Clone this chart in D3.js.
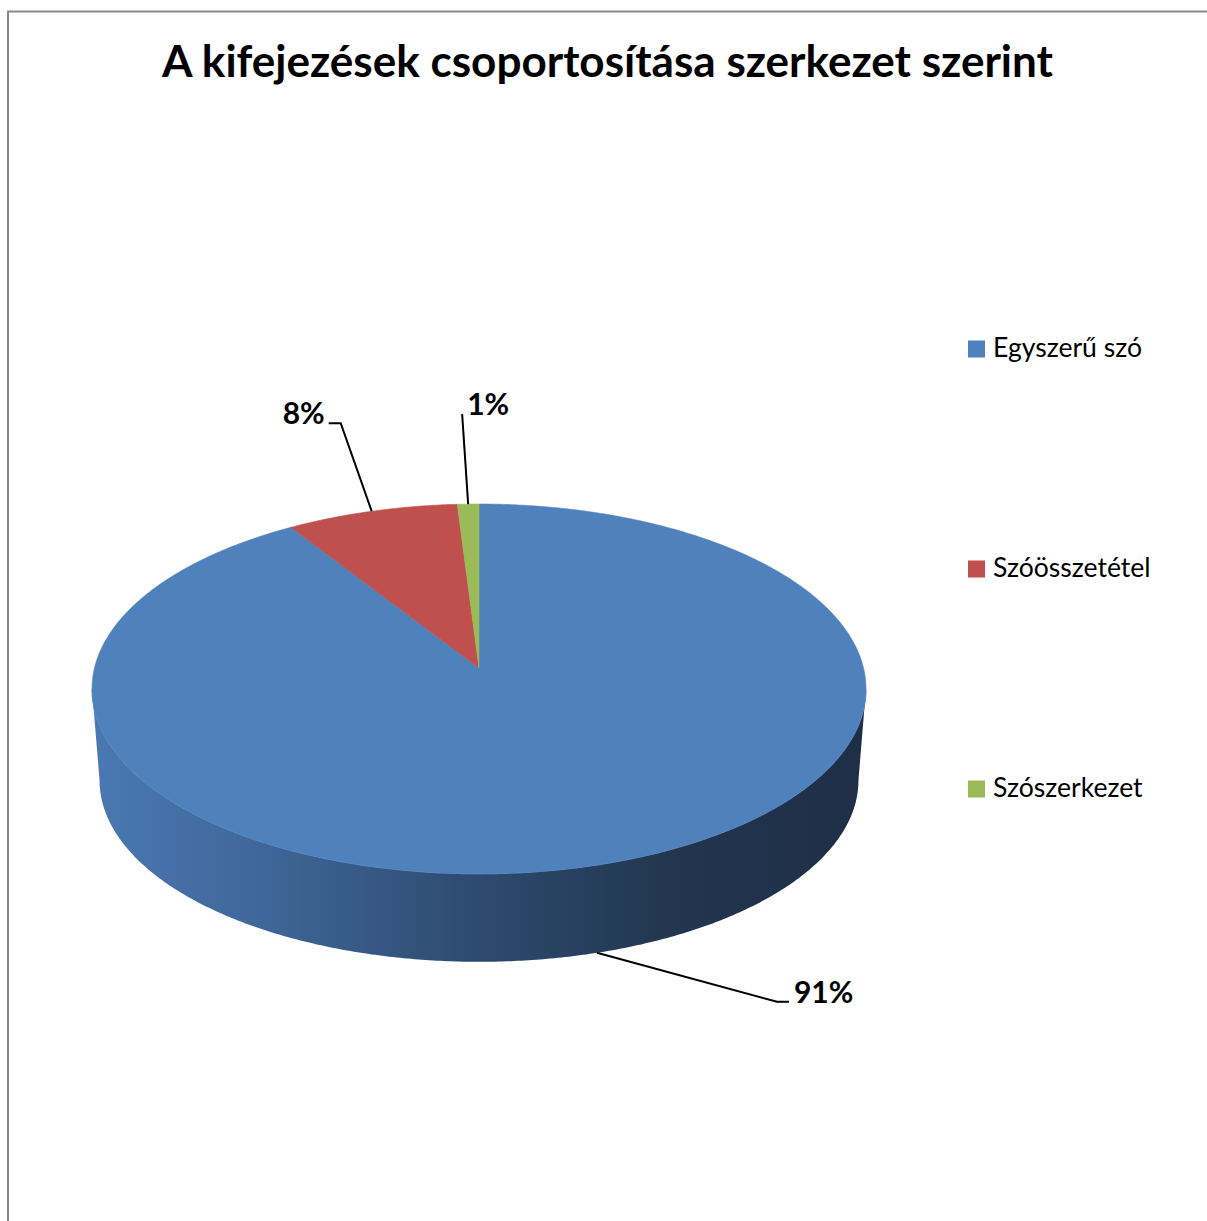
<!DOCTYPE html>
<html>
<head>
<meta charset="utf-8">
<script src="https://cdn.jsdelivr.net/npm/d3@7"></script>
<style>
  html, body { margin: 0; padding: 0; background: #ffffff; }
  svg { display: block; }
  text { font-family: Lato, "Open Sans", "DejaVu Sans", sans-serif; }
</style>
</head>
<body>
<div id="chart"></div>
<script>
// Kifejezések szerkezet szerinti megoszlása (százalék)
const categories = ["Egyszerű szó", "Szóösszetétel", "Szószerkezet"];
const shares = [91, 8, 1];
const colors = ["#4f81bd", "#c0504d", "#9bbb59"];
const chartTitle = "A kifejezések csoportosítása szerkezet szerint";

const W = 1207, H = 1221;
const svg = d3.select("#chart").append("svg")
  .attr("width", W).attr("height", H);

// Chart area frame
svg.append("rect")
  .attr("x", 8).attr("y", 11.5)
  .attr("width", W + 20).attr("height", H + 20)
  .attr("fill", "#ffffff")
  .attr("stroke", "#898989").attr("stroke-width", 2);

// Fit a text element to a given width by scaling its font size
function fitWidth(sel, width) {
  const node = sel.node();
  const fs = parseFloat(sel.attr("font-size"));
  const w = node.getComputedTextLength();
  const size = fs * width / w;
  sel.attr("font-size", size.toFixed(2));
  return size;
}

// Title
const title = svg.append("text")
  .attr("x", 607.5).attr("y", 77)
  .attr("text-anchor", "middle")
  .attr("font-weight", 700)
  .attr("font-size", 40)
  .attr("fill", "#000")
  .text(chartTitle);
fitWidth(title, 891);

// ---- 3D pie geometry: a disc seen in perspective ----
const CX = 479;
const K = 0.113;                     // perspective foreshortening
const topFace = { s: 384.5, t: 182.5, cy: 668 };
const bottomFace = { s: 377, t: 179, cy: 760 };

// angle a: radians, clockwise from 12 o'clock
function proj(a, face) {
  const u = Math.sin(a), v = Math.cos(a);
  const d = 1 + K * v;
  return [CX + face.s * u / d, face.cy - face.t * v / d];
}
function arcPoints(a0, a1, face) {
  const n = Math.max(2, Math.ceil(Math.abs(a1 - a0) / (Math.PI / 360)));
  return d3.range(n + 1).map(i => proj(a0 + (a1 - a0) * i / n, face));
}

const pie = d3.pie().sort(null).value(d => d)(shares);

// Side wall (front half of the cylinder)
const aR = Math.acos(-K), aL = 2 * Math.PI - Math.acos(-K);
const sidePts = arcPoints(aR, aL, topFace).concat(arcPoints(aL, aR, bottomFace));

const defs = svg.append("defs");
const grad = defs.append("linearGradient")
  .attr("id", "sideShade")
  .attr("gradientUnits", "userSpaceOnUse")
  .attr("x1", CX - topFace.s).attr("x2", CX + topFace.s)
  .attr("y1", 0).attr("y2", 0);
[[0, "#4a78b2"], [0.2, "#40689b"], [0.5, "#2d4a6f"], [0.75, "#22364f"], [1, "#1e2e46"]]
  .forEach(([o, c]) => grad.append("stop").attr("offset", o).attr("stop-color", c));

svg.append("path")
  .attr("d", d3.line()(sidePts) + "Z")
  .attr("fill", "url(#sideShade)");

// Thin highlight along the front rim
svg.append("path")
  .attr("d", d3.line()(arcPoints(aR, aL, topFace)))
  .attr("fill", "none")
  .attr("stroke", "#6a94c8")
  .attr("stroke-width", 1.2)
  .attr("opacity", 0.7);

// Top face slices
svg.append("g").selectAll("path")
  .data(pie)
  .join("path")
  .attr("d", d => {
    const pts = [[CX, topFace.cy]].concat(arcPoints(d.startAngle, d.endAngle, topFace));
    return d3.line()(pts) + "Z";
  })
  .attr("fill", (d, i) => colors[i])
  .attr("stroke", (d, i) => colors[i])
  .attr("stroke-width", 0.6);

// ---- Data labels with leader lines ----
const total = d3.sum(shares);
const fmt = d3.format(".0%");
// elbow offset from anchor, horizontal tick length, text side
const labelLayout = [
  { dx: 180, dy: 49, tick: 12, side: 1 },
  { dx: -31, dy: -88, tick: -12, side: -1 },
  { dx: -6, dy: -90, tick: 0, side: 1 }
];

pie.forEach((d, i) => {
  const mid = (d.startAngle + d.endAngle) / 2;
  const front = Math.cos(mid) < 0;
  const anchor = proj(mid, front ? bottomFace : topFace);
  const L = labelLayout[i];
  const elbow = [anchor[0] + L.dx, anchor[1] + L.dy];
  const end = [elbow[0] + L.tick, elbow[1]];
  svg.append("path")
    .attr("d", d3.line()([anchor, elbow, end]))
    .attr("fill", "none")
    .attr("stroke", "#000")
    .attr("stroke-width", 2);
  svg.append("text")
    .attr("x", end[0] + (L.side > 0 ? 5 : -4))
    .attr("y", elbow[1] + 1)
    .attr("text-anchor", L.side > 0 ? "start" : "end")
    .attr("font-weight", 700)
    .attr("font-size", 30)
    .attr("fill", "#000")
    .text(fmt(d.data / total));
});

// ---- Legend ----
const legend = svg.append("g");
const legendItems = categories.map((c, i) => {
  const cy = 349 + i * 220;
  legend.append("rect")
    .attr("x", 968).attr("y", cy - 8.5)
    .attr("width", 17).attr("height", 17)
    .attr("fill", colors[i]);
  return legend.append("text")
    .attr("x", 993).attr("y", cy + 8)
    .attr("font-size", 22)
    .attr("fill", "#000")
    .text(c);
});
// common legend font size, sized from the first entry
const legendSize = fitWidth(legendItems[0], 149);
legendItems.forEach(t => t.attr("font-size", legendSize.toFixed(2)));
</script>
</body>
</html>
